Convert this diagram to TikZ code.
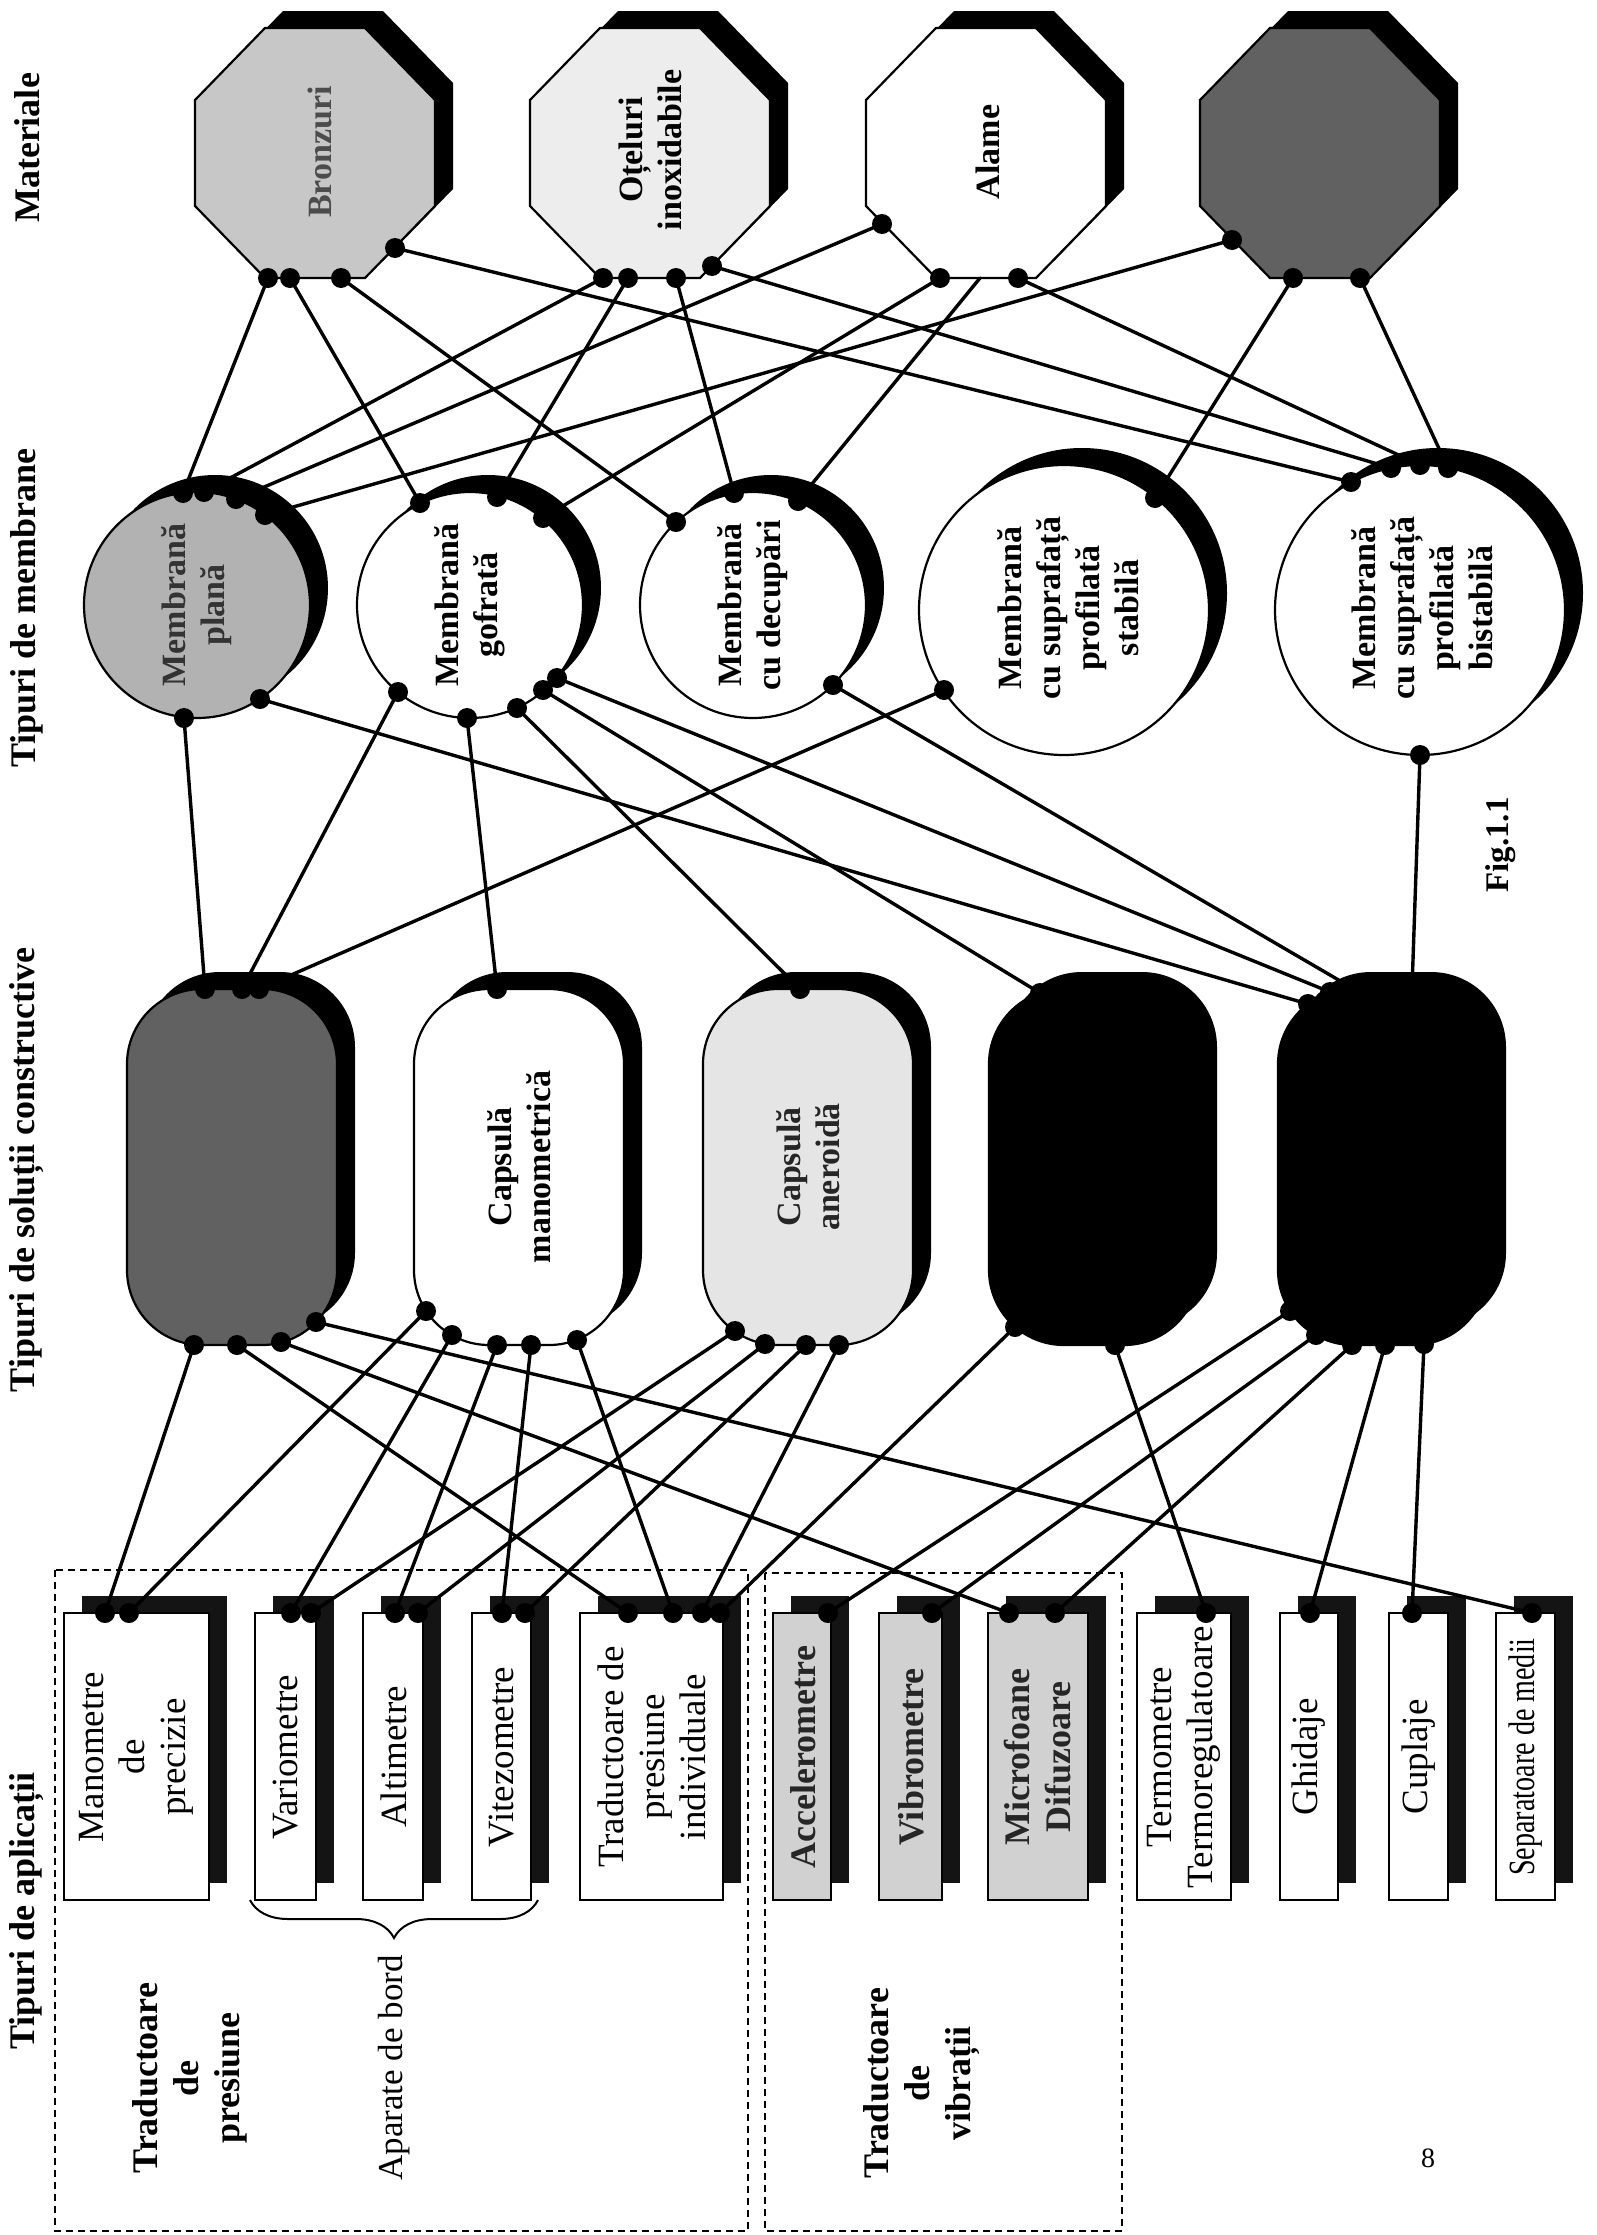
\documentclass[tikz,border=0pt]{standalone}
\usepackage{fontspec}
\setmainfont{Liberation Serif}
\usetikzlibrary{decorations.pathreplacing}
\newcommand\myoct[2]{%
  \fill[black, shift={(#1)}, xshift=18pt, yshift=17pt] (-50,-125) -- (50,-125) -- (120,-53) -- (120,53) -- (50,125) -- (-50,125) -- (-120,53) -- (-120,-53) -- cycle;
  \draw[outl, fill=#2, shift={(#1)}] (-50,-125) -- (50,-125) -- (120,-53) -- (120,53) -- (50,125) -- (-50,125) -- (-120,53) -- (-120,-53) -- cycle;}
\newcommand\mycirc[3]{%
  \fill[black, xshift=18pt, yshift=17pt] (#1) circle[radius=#2pt];
  \draw[outl, fill=#3] (#1) circle[radius=#2pt];}
\newcommand\mycaps[3]{%
  \fill[black, rounded corners=75pt, xshift=18pt, yshift=17pt] (#1) rectangle (#2);
  \draw[outl, fill=#3, rounded corners=75pt] (#1) rectangle (#2);}
\newcommand\mybox[3]{%
  \fill[black!92, xshift=18pt, yshift=17pt] (#1) rectangle (#2);
  \draw[outl, fill=#3] (#1) rectangle (#2);}
\begin{document}
\begin{tikzpicture}[x=1pt,y=-1pt,
  conn/.style={line width=3.4pt, line cap=round},
  outl/.style={draw=black, line width=2.2pt},
  hdr/.style={rotate=90, font=\fontsize{36}{40}\selectfont\bfseries, inner sep=0pt},
  blab/.style={rotate=90, align=center, font=\fontsize{37}{41}\selectfont, inner sep=0pt},
  bblab/.style={rotate=90, align=center, font=\fontsize{36}{41}\selectfont\bfseries, inner sep=0pt},
  slab/.style={rotate=90, align=center, font=\fontsize{34}{39}\selectfont\bfseries, inner sep=0pt},
  glab/.style={rotate=90, align=center, font=\fontsize{36}{41}\selectfont\bfseries, inner sep=0pt}]
\fill[white] (0,0) rectangle (1596,2235);
\useasboundingbox (0,0) rectangle (1596,2235);

% headers
\node[hdr] (hmat) at (27,148) {Materiale};
\node[hdr] (hmem) at (27,608) {Tipuri de membrane};
\node[hdr] (hsol) at (27,1170) {Tipuri de soluții constructive};
\node[hdr] (hapl) at (27,1911) {Tipuri de aplicații};

% materials
\myoct{315,153}{black!22}
\myoct{650,153}{black!7}
\myoct{986,153}{white}
\myoct{1320,153}{black!62}
\node[slab, text=black!70] (bronz) at (320,152) {Bronzuri};
\node[slab] (otel) at (650,150) {Oțeluri\\inoxidabile};
\node[slab] (alame) at (988,152) {Alame};

% membranes
\mycirc{197,605}{113}{black!30}
\mycirc{470,605}{113}{white}
\mycirc{753,605}{113}{white}
\mycirc{1064,610}{145}{white}
\mycirc{1420,610}{145}{white}
\node[slab, text=black!80] (mpl) at (197,605) {Membrană\\plană};
\node[slab] (mgo) at (470,605) {Membrană\\gofrată};
\node[slab] (mde) at (753,605) {Membrană\\cu decupări};
\node[slab] (mst) at (1068,608) {Membrană\\cu suprafață\\profilată\\stabilă};
\node[slab] (mbi) at (1422,608) {Membrană\\cu suprafață\\profilată\\bistabilă};

% capsules
\mycaps{127,989}{337,1345}{black!62}
\mycaps{414,989}{624,1345}{white}
\mycaps{703,989}{913,1345}{black!10}
\mycaps{989,989}{1199,1345}{black}
\mycaps{1278,989}{1488,1345}{black}
\node[slab] (cma) at (519,1167) {Capsulă\\manometrică};
\node[slab, text=black!85] (can) at (808,1167) {Capsulă\\aneroidă};

% application boxes
\mybox{64,1613}{209,1900}{white}
\mybox{255,1613}{316,1900}{white}
\mybox{363,1613}{423,1900}{white}
\mybox{472,1613}{531,1900}{white}
\mybox{580,1613}{723,1900}{white}
\mybox{773,1613}{831,1900}{black!18}
\mybox{879,1613}{942,1900}{black!18}
\mybox{988,1613}{1088,1900}{black!18}
\mybox{1137,1613}{1231,1900}{white}
\mybox{1280,1613}{1338,1900}{white}
\mybox{1389,1613}{1448,1900}{white}
\mybox{1496,1613}{1555,1900}{white}
\node[blab] (ap1) at (136,1757) {Manometre\\de\\precizie};
\node[blab] (ap2) at (286,1757) {Variometre};
\node[blab] (ap3) at (394,1757) {Altimetre};
\node[blab] (ap4) at (502,1757) {Vitezometre};
\node[blab] (ap5) at (652,1757) {Traductoare de\\presiune\\individuale};
\node[bblab, text=black!85] (ap6) at (803,1757) {Accelerometre};
\node[bblab, text=black!85] (ap7) at (911,1757) {Vibrometre};
\node[bblab, text=black!85] (ap8) at (1038,1757) {Microfoane\\Difuzoare};
\node[blab] (ap9) at (1184,1757) {Termometre\\Termoregulatoare};
\node[blab] (ap10) at (1309,1757) {Ghidaje};
\node[blab] (ap11) at (1419,1757) {Cuplaje};
\node[blab, xscale=0.76] (ap12) at (1526,1757) {Separatoare de medii};

% groups
\draw[line width=2pt, dash pattern=on 7pt off 5pt] (55,1570) rectangle (748,2231);
\draw[line width=2pt, dash pattern=on 7pt off 5pt] (765,1573) rectangle (1122,2231);
\node[glab] (gl1) at (190,2078) {Traductoare\\de\\presiune};
\node[rotate=90, font=\fontsize{35}{40}\selectfont, inner sep=0pt] (gl2) at (394,2068) {Aparate de bord};
\node[glab] (gl3) at (922,2083) {Traductoare\\de\\vibrații};
\draw[line width=2pt, decorate, decoration={brace, mirror, amplitude=38pt}] (250,1900) -- (538,1900);
\node[rotate=90, font=\fontsize{33}{38}\selectfont\bfseries, inner sep=0pt] (fig) at (1501,845) {Fig.1.1};
\node[font=\fontsize{28}{32}\selectfont, inner sep=0pt] (pg) at (1428,2158) {8};

% connection points: materials
\coordinate (b1) at (268,278); \coordinate (b2) at (290,278); \coordinate (b3) at (341,278); \coordinate (b4) at (395,248);
\coordinate (o1) at (603,278); \coordinate (o2) at (628,278); \coordinate (o3) at (676,278); \coordinate (o4) at (712,266);
\coordinate (a1) at (882,224); \coordinate (a2) at (940,278); \coordinate (a3) at (980,278); \coordinate (a4) at (1018,278);
\coordinate (d1) at (1232,240); \coordinate (d2) at (1293,278); \coordinate (d3) at (1360,278);
% membranes top
\coordinate (p1) at (183,493); \coordinate (p2) at (204,492); \coordinate (p3) at (236,499); \coordinate (p4) at (265,515);
\coordinate (g1) at (420,503); \coordinate (g2) at (497,497); \coordinate (g3) at (543,518);
\coordinate (c1) at (676,522); \coordinate (c2) at (734,493); \coordinate (c3) at (798,501);
\coordinate (s1) at (1155,498);
\coordinate (t1) at (1351,482); \coordinate (t2) at (1391,468); \coordinate (t3) at (1420,465); \coordinate (t4) at (1448,468);
% membranes bottom
\coordinate (pb1) at (184,718); \coordinate (pb2) at (260,699);
\coordinate (gb1) at (398,692); \coordinate (gb2) at (467,718); \coordinate (gb3) at (517,708); \coordinate (gb4) at (543,690); \coordinate (gb5) at (557,678);
\coordinate (cb1) at (833,685);
\coordinate (sb1) at (944,690);
\coordinate (tb1) at (1420,755);
% capsules top
\coordinate (r1a) at (205,989); \coordinate (r1b) at (242,989); \coordinate (r1c) at (259,989);
\coordinate (r2a) at (497,989);
\coordinate (r3a) at (800,989);
\coordinate (r4a) at (1040,993);
\coordinate (r5a) at (1308,1004); \coordinate (r5b) at (1330,992); \coordinate (r5c) at (1354,989); \coordinate (r5d) at (1412,989);
% capsules bottom
\coordinate (q1a) at (194,1345); \coordinate (q1b) at (237,1345); \coordinate (q1c) at (281,1342); \coordinate (q1d) at (316,1322);
\coordinate (q2a) at (426,1311); \coordinate (q2b) at (452,1335); \coordinate (q2c) at (497,1345); \coordinate (q2d) at (531,1345); \coordinate (q2e) at (577,1340);
\coordinate (q3a) at (735,1331); \coordinate (q3b) at (765,1344); \coordinate (q3c) at (806,1345); \coordinate (q3d) at (839,1345);
\coordinate (q4a) at (1015,1327); \coordinate (q4b) at (1115,1345);
\coordinate (q5a) at (1290,1311); \coordinate (q5b) at (1316,1335); \coordinate (q5c) at (1352,1345); \coordinate (q5d) at (1385,1345); \coordinate (q5e) at (1424,1344);
% applications top
\coordinate (e1a) at (105,1613); \coordinate (e1b) at (129,1613);
\coordinate (e2a) at (291,1613); \coordinate (e2b) at (311,1613);
\coordinate (e3a) at (395,1613); \coordinate (e3b) at (418,1613);
\coordinate (e4a) at (502,1613); \coordinate (e4b) at (525,1613);
\coordinate (e5a) at (628,1613); \coordinate (e5b) at (673,1613); \coordinate (e5c) at (702,1613); \coordinate (e5d) at (720,1613);
\coordinate (e6) at (828,1613); \coordinate (e7) at (932,1613);
\coordinate (e8a) at (1009,1613); \coordinate (e8b) at (1055,1613);
\coordinate (e9) at (1206,1613); \coordinate (e10) at (1310,1613); \coordinate (e11) at (1412,1613); \coordinate (e12) at (1532,1613);

% connectors
\foreach \u/\v in {b1/p1,b2/g1,b3/c1,b4/t1,o1/p2,o2/g2,o3/c2,o4/t2,a1/p3,a2/g3,a3/c3,a4/t3,d1/p4,d2/s1,d3/t4,
  pb1/r1a,pb2/r5a,gb1/r1b,gb2/r2a,gb3/r3a,gb4/r4a,gb5/r5b,cb1/r5c,sb1/r1c,tb1/r5d,
  q1a/e1a,q2a/e1b,q2b/e2a,q3a/e2b,q2c/e3a,q3b/e3b,q2d/e4a,q3c/e4b,q1b/e5a,q2e/e5b,q3d/e5c,q4a/e5d,
  q5a/e6,q5b/e7,q1c/e8a,q5c/e8b,q4b/e9,q5d/e10,q5e/e11,q1d/e12}
  \draw[conn] (\u) -- (\v);

% dots
\foreach \n in {b1,b2,b3,b4,o1,o2,o3,o4,a1,a2,a4,d1,d2,d3,
  p1,p2,p3,p4,g1,g2,g3,c1,c2,c3,s1,t1,t2,t3,t4,
  pb1,pb2,gb1,gb2,gb3,gb4,gb5,cb1,sb1,tb1,
  r1a,r1b,r1c,r2a,r3a,r4a,r5a,r5b,r5c,r5d,
  q1a,q1b,q1c,q1d,q2a,q2b,q2c,q2d,q2e,q3a,q3b,q3c,q3d,q4a,q4b,q5a,q5b,q5c,q5d,q5e,
  e1a,e1b,e2a,e2b,e3a,e3b,e4a,e4b,e5a,e5b,e5c,e5d,e6,e7,e8a,e8b,e9,e10,e11,e12}
  \fill (\n) circle[radius=10pt];
\end{tikzpicture}
\end{document}
